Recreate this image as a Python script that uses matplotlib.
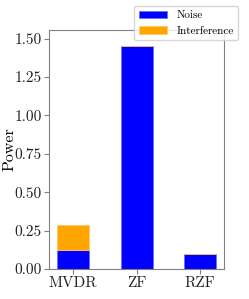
import numpy as np
import matplotlib
matplotlib.use("Agg")
import matplotlib.pyplot as plt

plt.rcParams['font.family'] = 'cmr10'
plt.rcParams['mathtext.fontset'] = 'cm'
plt.rcParams['axes.formatter.use_mathtext'] = True

methods = ['MVDR', 'ZF', 'RZF']
noise = [0.124, 1.455, 0.096]
interference = [0.161, 0.0, 0.0]

fig, ax = plt.subplots(figsize=(2.49, 2.99), dpi=100)
x = np.arange(len(methods))
ax.bar(x, noise, width=0.5, color='blue', edgecolor='#6f6fff', linewidth=0.6, label='Noise')
ax.bar(x, interference, width=0.5, bottom=noise, color='orange', edgecolor='#ffc966',
       linewidth=0.6, label='Interference')
ax.set_xticks(x)
ax.set_xticklabels(methods, fontsize=11)
ax.set_ylim(0, 1.557)
ax.set_yticks([0, 0.25, 0.5, 0.75, 1.0, 1.25, 1.5])
ax.set_yticklabels(['0.00', '0.25', '0.50', '0.75', '1.00', '1.25', '1.50'], fontsize=11)
ax.set_ylabel('Power', fontsize=11.5)
ax.yaxis.set_label_coords(-0.19, 0.5)
for s in ax.spines.values():
    s.set_color('#808080')
ax.tick_params(colors='#808080', labelcolor='#222222', pad=2)

fig.subplots_adjust(left=0.198, right=0.9, top=0.9, bottom=0.1)
fig.legend(loc='upper right', bbox_to_anchor=(0.965, 0.987), fontsize=8,
           handlelength=2.6, borderaxespad=0.2)
fig.savefig('out.png')
